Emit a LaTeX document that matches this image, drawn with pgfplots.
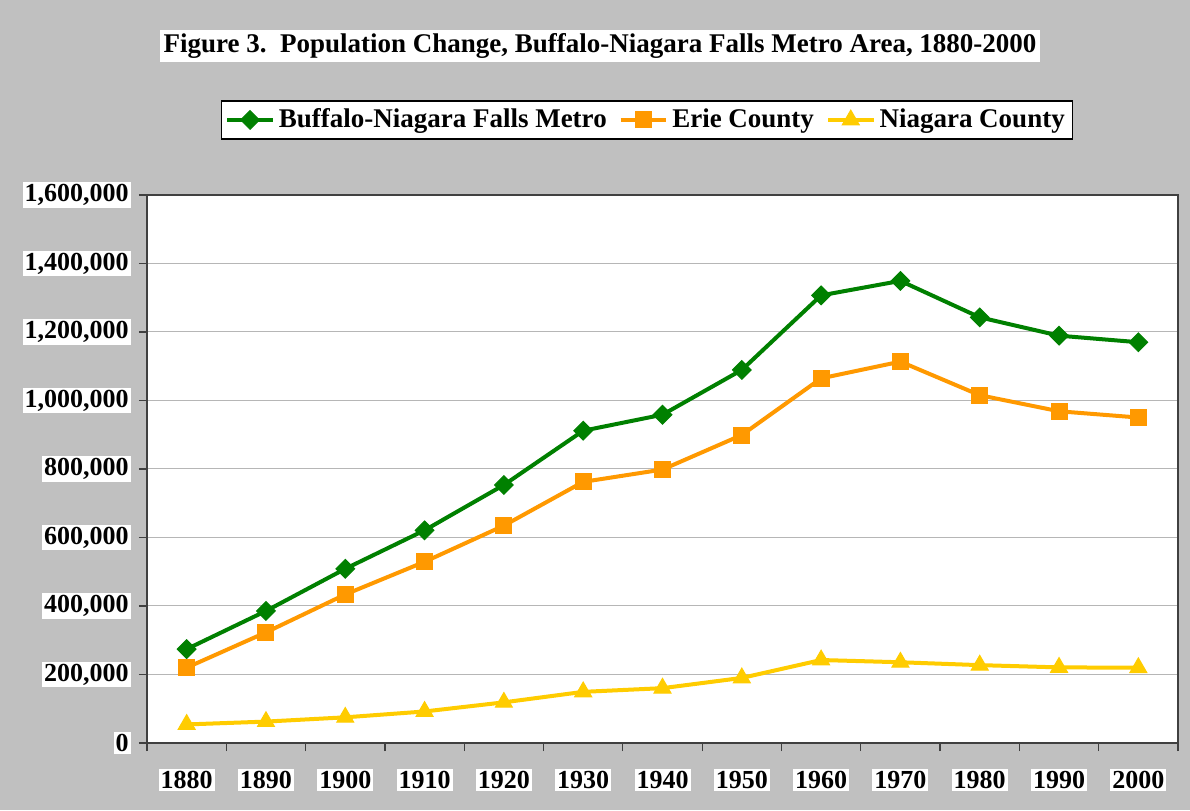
\documentclass[border=0pt]{standalone}
\usepackage{fontspec}
\setmainfont{Liberation Serif}
\usepackage{pgfplots}
\pgfplotsset{compat=1.18}
\definecolor{bg}{HTML}{C0C0C0}
\definecolor{metro}{HTML}{008000}
\definecolor{erie}{HTML}{FF9900}
\definecolor{niag}{HTML}{FFCC00}
\definecolor{axisc}{HTML}{404040}
\begin{document}
\begin{tikzpicture}[font=\bfseries\fontsize{13}{15}\selectfont]
\fill[bg] (0,0) rectangle (595pt,405pt);
\useasboundingbox (0,0) rectangle (595pt,405pt);
\begin{axis}[
  at={(73.5pt,33.5pt)}, anchor=south west,
  width=515.5pt, height=274pt, scale only axis,
  xmin=-0.5, xmax=12.5, ymin=0, ymax=1600000,
  xtick={0,...,12},
  xticklabels={1880,1890,1900,1910,1920,1930,1940,1950,1960,1970,1980,1990,2000},
  minor xtick={-0.5,0.5,...,12.5},
  ytick={0,200000,...,1600000},
  xtick pos=bottom, ytick pos=left,
  scaled y ticks=false,
  /pgf/number format/fixed,
  /pgf/number format/1000 sep={,},
  /pgf/number format/assume math mode=true,
  tick align=outside,
  major tick length=4pt, minor tick length=4pt,
  x tick style={draw=none},
  minor x tick style={draw=axisc, line width=0.6pt},
  y tick style={draw=axisc, line width=0.6pt},
  ticklabel style={fill=white, inner sep=1pt, text=black, font=\bfseries\fontsize{13}{15}\selectfont},
  xticklabel style={yshift=-9pt},
  yticklabel style={xshift=-4pt},
  ymajorgrids, grid style={draw=bg!95!black, line width=0.5pt},
  axis background/.style={fill=white},
  axis line style={draw=axisc, line width=0.6pt},
  legend columns=3,
  legend style={at={(0.485,1.137)}, anchor=center, draw=black, fill=white, line width=0.6pt,
    font=\bfseries\fontsize{13.5}{16}\selectfont, inner sep=2pt,
    /tikz/every even column/.append style={column sep=4pt}},
  legend image code/.code={\draw[mark repeat=2,mark phase=2] plot coordinates {(0cm,0cm)(0.4cm,0cm)(0.8cm,0cm)};},
  every axis plot/.append style={line width=2pt},
]
\addplot[color=metro, mark=square*, mark size=3.3pt, mark options={rotate=45, line width=0.5pt}] coordinates {
 (0,274057) (1,385472) (2,508647) (3,621021) (4,753393) (5,911737) (6,958487)
 (7,1089230) (8,1306957) (9,1349211) (10,1242826) (11,1189288) (12,1170111)};
\addlegendentry{Buffalo-Niagara Falls Metro}
\addplot[color=erie, mark=square*, mark size=4pt, mark options={line width=0.5pt}] coordinates {
 (0,219884) (1,322981) (2,433686) (3,528985) (4,634688) (5,762408) (6,798377)
 (7,899238) (8,1064688) (9,1113491) (10,1015472) (11,968532) (12,950265)};
\addlegendentry{Erie County}
\addplot[color=niag, mark=triangle*, mark size=4.9pt, mark options={line width=0.5pt}] coordinates {
 (0,54173) (1,62491) (2,74961) (3,92036) (4,118705) (5,149329) (6,160110)
 (7,189992) (8,242269) (9,235720) (10,227354) (11,220756) (12,219846)};
\addlegendentry{Niagara County}
\end{axis}
\node[fill=white, inner sep=2pt, font=\bfseries\fontsize{13.5}{16}\selectfont] at (300pt,382pt)
  {Figure 3.\ \ Population Change, Buffalo-Niagara Falls Metro Area, 1880-2000};
\end{tikzpicture}
\end{document}
